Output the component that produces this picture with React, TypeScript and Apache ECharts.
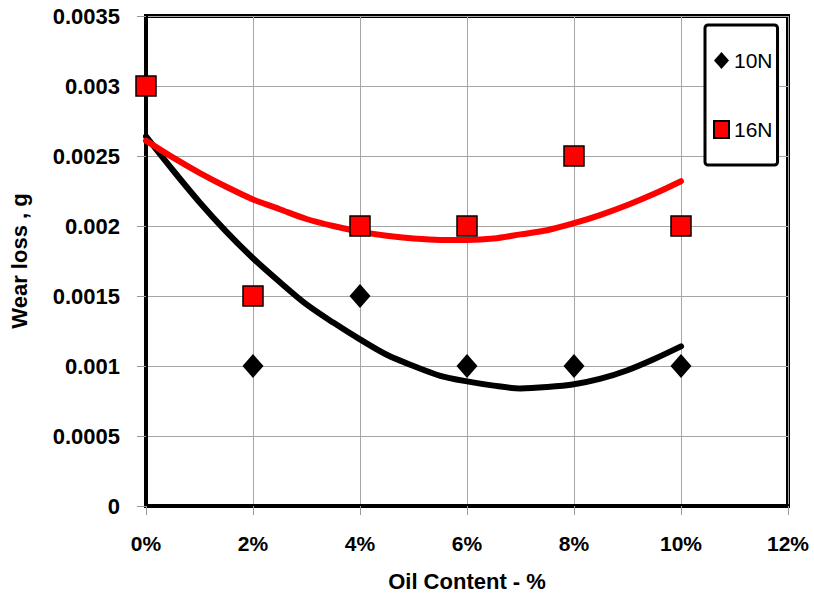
import React, { useEffect, useRef } from "react";
import * as echarts from "echarts";

// Oil content (%) at which wear was measured
const oilContent = [0, 2, 4, 6, 8, 10];
// Wear loss (g) measured at 10 N and 16 N
const wear10N = [0.003, 0.001, 0.0015, 0.001, 0.001, 0.001];
const wear16N = [0.003, 0.0015, 0.002, 0.002, 0.0025, 0.002];

// Trend curves every 0.5 % of oil content
const trendX = [0, 0.5, 1, 1.5, 2, 2.5, 3, 3.5, 4, 4.5, 5, 5.5, 6, 6.5, 7, 7.5, 8, 8.5, 9, 9.5, 10];
const trend10N = [
  0.00264, 0.0024, 0.00217, 0.00196, 0.00177, 0.0016, 0.00144, 0.00131, 0.00119, 0.00108, 0.001,
  0.00093, 0.00089, 0.00086, 0.00084, 0.00085, 0.00087, 0.00091, 0.00097, 0.00105, 0.00114,
];
const trend16N = [
  0.00261, 0.00249, 0.00238, 0.00228, 0.00219, 0.00212, 0.00205, 0.002, 0.00196, 0.00193, 0.00191,
  0.0019, 0.0019, 0.00191, 0.00194, 0.00197, 0.00202, 0.00208, 0.00215, 0.00223, 0.00232,
];

// Axis settings
const xTicks = { min: 0, max: 12, interval: 2 };
const yTicks = { min: 0, max: 0.0035, interval: 0.0005 };

const FONT = "'Liberation Sans', Arial, sans-serif";

export default function App() {
  const ref = useRef<HTMLDivElement>(null);

  useEffect(() => {
    if (!ref.current) return;
    const chart = echarts.init(ref.current, undefined, { renderer: "svg" });
    const pair = (xs: number[], ys: number[]) => xs.map((x, i) => [x, ys[i]]);

    chart.setOption({
      animation: false,
      backgroundColor: "#ffffff",
      grid: {
        left: 146,
        right: 26,
        top: 16,
        bottom: 99,
        show: true,
        borderColor: "#000",
        borderWidth: 4,
        backgroundColor: "transparent",
      },
      legend: {
        orient: "vertical",
        left: 705,
        top: 25,
        padding: [25, 5, 25, 8],
        itemGap: 48,
        itemWidth: 15,
        itemHeight: 17,
        borderColor: "#000",
        borderWidth: 3,
        borderRadius: 3,
        backgroundColor: "#fff",
        textStyle: { fontSize: 21, color: "#000", fontFamily: FONT },
        data: [
          { name: "10N", icon: "diamond" },
          { name: "16N", icon: "rect" },
        ],
      },
      xAxis: {
        type: "value",
        min: xTicks.min,
        max: xTicks.max,
        interval: xTicks.interval,
        name: "Oil Content - %",
        nameLocation: "middle",
        nameGap: 64,
        nameTextStyle: { fontSize: 22, fontWeight: "bold", color: "#000", fontFamily: FONT },
        axisLine: { show: true, onZero: false, lineStyle: { color: "#000", width: 4 } },
        axisTick: { show: true, length: 9, lineStyle: { color: "#999", width: 1 } },
        axisLabel: {
          margin: 27,
          fontSize: 21,
          fontWeight: "bold",
          color: "#000",
          fontFamily: FONT,
          formatter: (v: number) => `${v}%`,
        },
        splitLine: { show: true, lineStyle: { color: "#a6a6a6", width: 1 } },
      },
      yAxis: {
        type: "value",
        min: yTicks.min,
        max: yTicks.max,
        interval: yTicks.interval,
        name: "Wear loss , g",
        nameLocation: "middle",
        nameGap: 116,
        nameTextStyle: { fontSize: 22, fontWeight: "bold", color: "#000", fontFamily: FONT },
        axisLine: { show: true, onZero: false, lineStyle: { color: "#000", width: 4 } },
        axisTick: { show: true, length: 9, lineStyle: { color: "#999", width: 1 } },
        axisLabel: {
          margin: 26,
          fontSize: 22,
          fontWeight: "bold",
          color: "#000",
          fontFamily: FONT,
          formatter: (v: number) => String(Number(v.toFixed(4))),
        },
        splitLine: { show: true, lineStyle: { color: "#a6a6a6", width: 1 } },
      },
      series: [
        {
          name: "10N trend",
          type: "line",
          data: pair(trendX, trend10N),
          smooth: 0.3,
          showSymbol: false,
          symbol: "none",
          lineStyle: { color: "#000", width: 6, cap: "round" },
          z: 2,
          silent: true,
        },
        {
          name: "16N trend",
          type: "line",
          data: pair(trendX, trend16N),
          smooth: 0.3,
          showSymbol: false,
          symbol: "none",
          lineStyle: { color: "#ff0000", width: 6, cap: "round" },
          z: 3,
          silent: true,
        },
        {
          name: "10N",
          type: "scatter",
          data: pair(oilContent, wear10N),
          symbol: "diamond",
          symbolSize: [21, 24],
          itemStyle: { color: "#000", opacity: 1 },
          clip: false,
          z: 4,
        },
        {
          name: "16N",
          type: "scatter",
          data: pair(oilContent, wear16N),
          symbol: "rect",
          symbolSize: 20,
          itemStyle: { color: "#ff0000", borderColor: "#000", borderWidth: 1.5, opacity: 1 },
          clip: false,
          z: 5,
        },
      ],
    });

    return () => chart.dispose();
  }, []);

  return (
    <div
      ref={ref}
      style={{ position: "fixed", left: 0, top: 0, width: 814, height: 605, background: "#fff" }}
    />
  );
}
